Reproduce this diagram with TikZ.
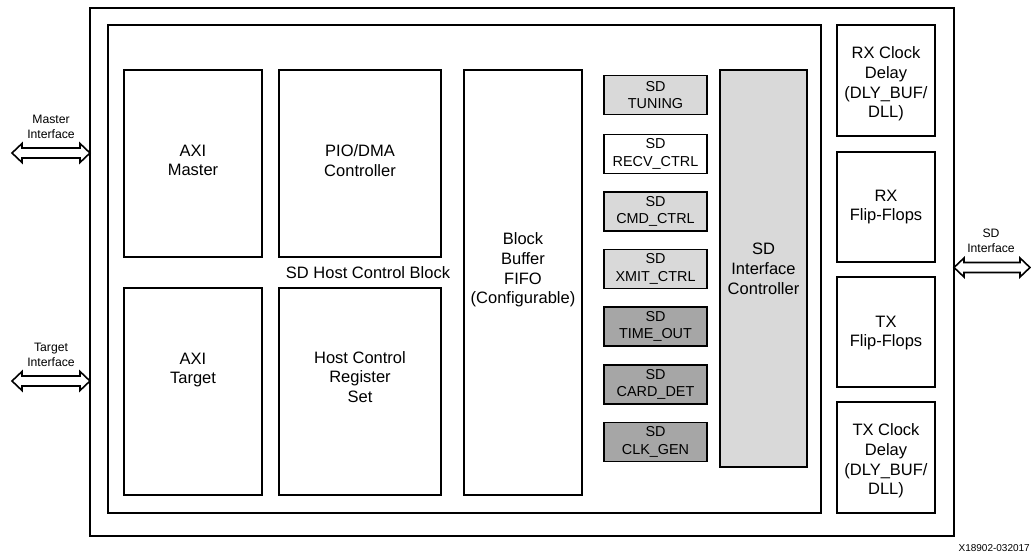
\documentclass[tikz,border=0pt]{standalone}
\usepackage{fontspec}
\setmainfont{Liberation Sans}
\definecolor{lightfill}{HTML}{D9D9D9}
\definecolor{darkfill}{HTML}{A6A6A6}
\begin{document}
\begin{tikzpicture}[x=1pt,y=-1pt,
  box/.style={draw=black,line width=1.6pt,rectangle,inner sep=0pt,outer sep=0pt},
  bigtxt/.style={align=center,inner sep=0pt,font=\fontsize{16.5}{19.8}\selectfont},
  smalltxt/.style={align=center,inner sep=0pt,font=\fontsize{14.4}{17.6}\selectfont},
  iftxt/.style={align=center,inner sep=0pt,font=\fontsize{12.2}{15.6}\selectfont},
  smallbox/.style={box,minimum width=103pt,minimum height=39pt},
  rightbox/.style={box,minimum width=98pt},
  ioarrow/.style={draw=black,fill=white,line width=1.6pt,line join=miter}
]
\useasboundingbox (0,0) rectangle (1031,556);
% outer and inner frames
\node[box,minimum width=864pt,minimum height=528pt] (outer) at (522,272) {};
\node[box,minimum width=713pt,minimum height=488pt] (inner) at (464.5,269) {};
\node[bigtxt] (hcb) at (368,272.5) {SD Host Control Block};
% left column
\node[box,minimum width=138pt,minimum height=187pt] (axim) at (193,163.5) {};
\node[bigtxt] (aximt) at (193,160.5) {AXI\\Master};
\node[box,minimum width=138pt,minimum height=207pt] (axit) at (193,391.5) {};
\node[bigtxt] (axitt) at (193,370) {AXI\\Target};
\node[box,minimum width=162pt,minimum height=187pt] (pio) at (360,163.5) {};
\node[bigtxt] (piot) at (360,160.5) {PIO/DMA\\Controller};
\node[box,minimum width=162pt,minimum height=207pt] (hcr) at (360,391.5) {};
\node[bigtxt] (hcrt) at (360,377) {Host Control\\Register\\Set};
% FIFO
\node[box,minimum width=118pt,minimum height=425pt] (fifo) at (523,282.5) {};
\node[bigtxt] (fifot) at (523,270) {Block\\Buffer\\FIFO\\(Configurable)};
% small SD boxes
\node[smallbox,fill=lightfill] (tun) at (655.5,95) {};
\node[smalltxt] at (tun.center) {SD\\TUNING};
\node[smallbox,fill=white] (recv) at (655.5,154) {};
\node[smalltxt] at (recv.center) {SD\\RECV\_CTRL};
\node[smallbox,fill=lightfill] (cmd) at (655.5,211.5) {};
\node[smalltxt] at (cmd.center) {SD\\CMD\_CTRL};
\node[smallbox,fill=lightfill] (xmit) at (655.5,269) {};
\node[smalltxt] at (xmit.center) {SD\\XMIT\_CTRL};
\node[smallbox,fill=darkfill] (tout) at (655.5,326.5) {};
\node[smalltxt] at (tout.center) {SD\\TIME\_OUT};
\node[smallbox,fill=darkfill] (card) at (655.5,384.5) {};
\node[smalltxt] at (card.center) {SD\\CARD\_DET};
\node[smallbox,fill=darkfill] (clk) at (655.5,442) {};
\node[smalltxt] at (clk.center) {SD\\CLK\_GEN};
% SD interface controller
\node[box,fill=lightfill,minimum width=87pt,minimum height=397pt] (sdic) at (763.5,268.5) {};
\node[bigtxt] (sdict) at (763.5,269) {SD\\Interface\\Controller};
% right column
\node[rightbox,minimum height=111pt] (rxcd) at (886,80.5) {};
\node[bigtxt] (rxcdt) at (886,84) {RX Clock\\Delay\\(DLY\_BUF/\\DLL)};
\node[rightbox,minimum height=110pt] (rxff) at (886,207) {};
\node[bigtxt] (rxfft) at (886,207) {RX\\Flip-Flops};
\node[rightbox,minimum height=110pt] (txff) at (886,332) {};
\node[bigtxt] (txfft) at (886,333) {TX\\Flip-Flops};
\node[rightbox,minimum height=111pt] (txcd) at (886,457.5) {};
\node[bigtxt] (txcdt) at (886,461) {TX Clock\\Delay\\(DLY\_BUF/\\DLL)};
% interface arrows
\coordinate (mtip) at (12,153);
\coordinate (ttip) at (12,381);
\coordinate (stip) at (1030,267.5);
\draw[ioarrow] (mtip) -- ++(10,-9.5) -- ++(0,4.5) -- ++(58,0) -- ++(0,-4.5) -- (outer.west |- mtip)
  -- ++(-10,9.5) -- ++(0,-4.5) -- ++(-58,0) -- ++(0,4.5) -- cycle;
\draw[ioarrow] (ttip) -- ++(10,-9.5) -- ++(0,4.5) -- ++(58,0) -- ++(0,-4.5) -- (outer.west |- ttip)
  -- ++(-10,9.5) -- ++(0,-4.5) -- ++(-58,0) -- ++(0,4.5) -- cycle;
\draw[ioarrow] (outer.east |- stip) -- ++(10,-9.5) -- ++(0,4.5) -- ++(56,0) -- ++(0,-4.5) -- (stip)
  -- ++(-10,9.5) -- ++(0,-4.5) -- ++(-56,0) -- ++(0,4.5) -- cycle;
\node[iftxt] (mlab) at (51,127) {Master\\Interface};
\node[iftxt] (tlab) at (51,355) {Target\\Interface};
\node[iftxt] (slab) at (991,241) {SD\\Interface};
\node[inner sep=0pt,anchor=east,font=\fontsize{10}{12}\selectfont] (fig) at (1030,548) {X18902-032017};
\end{tikzpicture}
\end{document}
